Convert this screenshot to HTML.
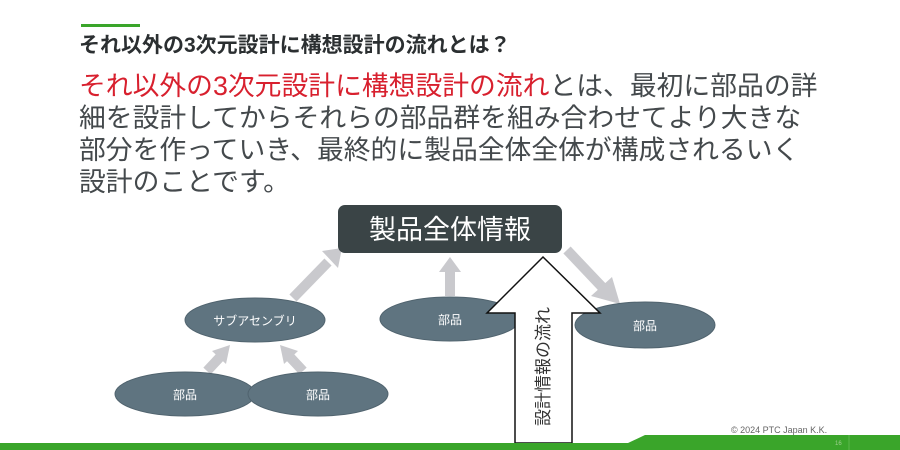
<!DOCTYPE html>
<html><head><meta charset="utf-8"><style>
body{margin:0;width:900px;height:450px;overflow:hidden;background:#fff;position:relative;font-family:"Liberation Sans","Noto Sans CJK JP",sans-serif}
.t{position:absolute;left:79px;top:29px;font-size:21px;font-weight:bold;color:#2b2f31;white-space:nowrap}
.b{position:absolute;left:79px;top:70px;font-size:26.8px;line-height:32px;color:#44494c;white-space:nowrap}
.r{color:#d8202e}
</style></head><body>
<div style="position:absolute;left:81px;top:24px;width:59px;height:3px;background:#3aa52a"></div>
<div class="t">それ以外の3次元設計に構想設計の流れとは？</div>
<div class="b"><span class="r">それ以外の3次元設計に構想設計の流れ</span>とは、最初に部品の詳<br>細を設計してからそれらの部品群を組み合わせてより大きな<br>部分を作っていき、最終的に製品全体全体が構成されるいく<br>設計のことです。</div>
<svg width="900" height="450" style="position:absolute;left:0;top:0" font-family="Liberation Sans, Noto Sans CJK JP, sans-serif">
<g stroke="#c9c9cd" stroke-width="10" fill="#c9c9cd">
<line x1="293" y1="298" x2="328" y2="262"/><polygon points="322,251 342,248 338,268" stroke="none"/>
<line x1="450" y1="296" x2="450" y2="270"/><polygon points="439,272 461,272 450,257" stroke="none"/>
<line x1="567" y1="250" x2="603" y2="288"/><polygon points="591,296 620,304 612,277" stroke="none"/>
<line x1="207" y1="371" x2="221" y2="356"/><polygon points="212,351 230,345 226,364" stroke="none"/>
<line x1="303" y1="371" x2="289" y2="356"/><polygon points="284,364 280,345 298,351" stroke="none"/>
</g>
<rect x="338" y="205" width="224" height="48" rx="7" fill="#3a4446"/>
<text x="450" y="239" font-size="27" fill="#fff" text-anchor="middle">製品全体情報</text>
<g fill="#5f7480" stroke="#50636e" stroke-width="1">
<ellipse cx="255" cy="320" rx="70" ry="22"/>
<ellipse cx="450" cy="319" rx="70" ry="22"/>
<ellipse cx="645" cy="325" rx="70" ry="23"/>
<ellipse cx="185" cy="394" rx="70" ry="22"/>
<ellipse cx="318" cy="394" rx="70" ry="22"/>
</g>
<g fill="#fff" font-size="12" text-anchor="middle">
<text x="255" y="325">サブアセンブリ</text>
<text x="450" y="324">部品</text>
<text x="645" y="330">部品</text>
<text x="185" y="399">部品</text>
<text x="318" y="399">部品</text>
</g>
<polygon points="543,257 600,313 572,313 572,443 515,443 515,313 487,313" fill="#fff" stroke="#111" stroke-width="1.5"/>
<text x="0" y="0" font-size="17" fill="#333" transform="translate(549,426) rotate(-90)">設計情報の流れ</text>
<polygon points="0,443 628,443 645,435 900,435 900,450 0,450" fill="#3aa52a"/>
<text x="731" y="433" font-size="9" fill="#666">© 2024 PTC Japan K.K.</text>
<text x="835" y="445" font-size="6" fill="#9fd08f">16</text>
<line x1="849" y1="435" x2="849" y2="450" stroke="#5cb84c"/>
</svg>
</body></html>
